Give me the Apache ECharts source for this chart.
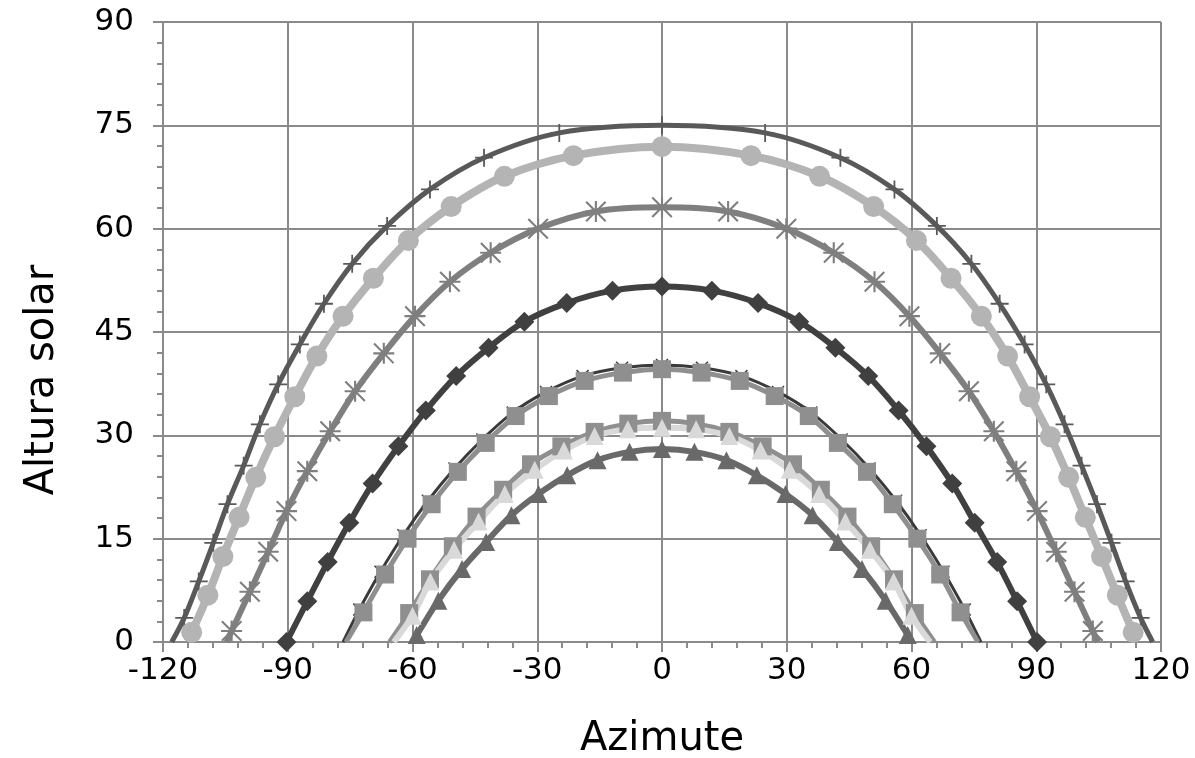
<!DOCTYPE html>
<html>
<head>
<meta charset="utf-8">
<title>Altura solar x Azimute</title>
<script src="https://cdn.jsdelivr.net/npm/echarts@6/dist/echarts.min.js"></script>
<style>
  html, body { margin: 0; padding: 0; background: #ffffff; }
  #chart { width: 1195px; height: 758px; }
</style>
</head>
<body>
<div id="chart"></div>
<script>
// Sun paths: azimuth (degrees) and solar altitude (degrees), one marker per half hour.
// Each "horizon" pair gives the sunrise / sunset azimuth where the curve meets altitude 0.

const xTicks = [-120, -90, -60, -30, 0, 30, 60, 90, 120];
const yTicks = [0, 15, 30, 45, 60, 75, 90];

const plusAz  = [-114.9, -111.4, -107.9, -104.5, -100.6, -96.7, -92.3, -87.1, -81.3, -74.5, -66.1, -55.8, -42.8, -24.7, 0, 24.8, 42.9, 55.9, 66.1, 74.4, 81.2, 87.2, 92.4, 96.8, 100.9, 104.6, 108.1, 111.5, 115.1];
const plusAlt = [3.5, 8.8, 14.4, 20.0, 25.6, 31.6, 37.4, 43.2, 49.1, 54.9, 60.4, 65.7, 70.3, 73.9, 75.0, 73.9, 70.3, 65.7, 60.4, 54.9, 49.1, 43.2, 37.4, 31.6, 25.6, 20.0, 14.4, 8.8, 3.5];
const plusHorizon = [-117.9, 118.0];

const circleAz  = [-113.1, -109.2, -105.6, -101.7, -97.7, -93.2, -88.3, -83.0, -76.7, -69.4, -61.0, -50.7, -37.9, -21.3, 0, 21.4, 37.9, 50.9, 61.2, 69.5, 76.8, 83.1, 88.4, 93.4, 97.8, 101.8, 105.7, 109.5, 113.3];
const circleAlt = [1.4, 6.8, 12.4, 18.1, 23.9, 29.8, 35.6, 41.5, 47.3, 52.8, 58.3, 63.2, 67.6, 70.6, 71.9, 70.6, 67.6, 63.2, 58.3, 52.8, 47.3, 41.5, 35.6, 29.8, 23.9, 18.1, 12.4, 6.8, 1.4];

const starAz  = [-103.5, -99.1, -94.7, -90.3, -85.3, -79.8, -73.8, -66.9, -59.4, -51.0, -41.2, -29.8, -15.9, 0, 15.9, 29.9, 41.3, 51.1, 59.5, 66.9, 73.8, 79.8, 85.2, 90.2, 94.8, 99.2, 103.6];
const starAlt = [1.6, 7.3, 13.1, 19.0, 24.8, 30.6, 36.4, 41.9, 47.3, 52.3, 56.5, 60.0, 62.5, 63.1, 62.5, 60.0, 56.5, 52.3, 47.3, 41.9, 36.4, 30.6, 24.8, 19.0, 13.1, 7.3, 1.6];
const starHorizon = [-104.7, 104.8];

const diamondAz  = [-90.3, -85.3, -80.4, -75.2, -69.6, -63.4, -56.8, -49.5, -41.7, -33.1, -22.9, -11.9, 0, 12.0, 23.1, 33.0, 41.7, 49.6, 56.9, 63.6, 69.8, 75.2, 80.6, 85.4, 90.2];
const diamondAlt = [0, 5.9, 11.6, 17.3, 23.0, 28.4, 33.6, 38.6, 42.7, 46.5, 49.2, 51.0, 51.6, 51.0, 49.2, 46.5, 42.7, 38.6, 33.6, 28.4, 23.0, 17.3, 11.6, 5.9, 0];

const crossAz  = [-72.8, -67.7, -62.2, -56.3, -49.9, -43.2, -35.9, -27.9, -19.1, -9.6, 0, 9.6, 19.1, 27.9, 35.9, 43.2, 49.9, 56.3, 62.2, 67.7, 72.8];
const crossAlt = [4.7, 10.2, 15.5, 20.5, 25.2, 29.4, 33.3, 36.3, 38.6, 39.8, 40.2, 39.8, 38.6, 36.3, 33.3, 29.4, 25.2, 20.5, 15.5, 10.2, 4.7];
const crossHorizon = [-76.7, 76.7];

const squareAz  = [-71.8, -66.6, -61.2, -55.4, -49.1, -42.4, -35.2, -27.2, -18.6, -9.4, 0, 9.5, 18.7, 27.1, 35.3, 42.3, 49.3, 55.5, 61.4, 66.9, 71.8];
const squareAlt = [4.3, 9.8, 15.0, 20.0, 24.7, 28.9, 32.8, 35.7, 37.9, 39.1, 39.6, 39.1, 37.9, 35.7, 32.8, 28.9, 24.7, 20.0, 15.0, 9.8, 4.3];
const squareHorizon = [-76.0, 76.0];

const square2Az  = [-60.8, -55.8, -50.3, -44.6, -38.2, -31.5, -24.2, -16.2, -8.1, 0, 8.1, 16.2, 24.2, 31.5, 38.2, 44.6, 50.3, 55.8, 60.8];
const square2Alt = [4.2, 9.1, 13.9, 18.2, 22.1, 25.8, 28.4, 30.5, 31.7, 32.1, 31.7, 30.5, 28.4, 25.8, 22.1, 18.2, 13.9, 9.1, 4.2];
const square2Horizon = [-65.5, 65.5];

const lightTriAz  = [-60.0, -55.7, -50.0, -44.1, -37.8, -30.6, -23.6, -16.2, -8.2, 0, 8.2, 16.2, 23.7, 30.7, 37.8, 44.1, 50.0, 55.7, 60.0];
const lightTriAlt = [3.8, 8.8, 13.4, 17.5, 21.5, 25.0, 27.8, 29.9, 30.9, 31.1, 30.9, 29.9, 27.8, 25.0, 21.5, 17.5, 13.4, 8.8, 3.8];
const lightTriHorizon = [-64.5, 64.5];

const darkTriAz  = [-59.0, -53.8, -48.1, -42.3, -36.2, -29.7, -22.8, -15.5, -7.8, 0, 7.8, 15.5, 22.8, 29.7, 36.2, 42.3, 48.1, 53.8, 59.1];
const darkTriAlt = [1.0, 6.0, 10.6, 14.5, 18.4, 21.5, 24.2, 26.4, 27.6, 28.0, 27.6, 26.4, 24.2, 21.5, 18.4, 14.5, 10.6, 6.0, 1.0];
const darkTriHorizon = [-60.1, 60.1];

// Marker shapes drawn as filled paths in a 20x20 box
const PLUS = 'path://M9,0H11V20H9Z M0,9H20V11H0Z';
const STAR = 'path://M9,0H11V20H9Z M0,9H20V11H0Z M1.4,0L20,18.6L18.6,20L0,1.4Z M18.6,0L20,1.4L1.4,20L0,18.6Z';
const CROSS = 'path://M1.6,0L20,18.4L18.4,20L0,1.6Z M18.4,0L20,1.6L1.6,20L0,18.4Z';

function track(az, alt, horizon) {
  const pts = az.map((a, i) => [a, alt[i]]);
  if (horizon) {
    pts.unshift({ value: [horizon[0], 0], symbol: 'none' });
    pts.push({ value: [horizon[1], 0], symbol: 'none' });
  }
  return pts;
}

function path(name, data, color, width, symbol, size, markerColor) {
  return {
    name: name,
    type: 'line',
    data: data,
    smooth: 0.35,
    symbol: symbol,
    symbolSize: size,
    showAllSymbol: true,
    clip: false,
    lineStyle: { color: color, width: width },
    itemStyle: { color: markerColor || color, borderWidth: 0 },
    emphasis: { disabled: true }
  };
}

const gridColor = '#8a8a8a';
const tickFont = { fontFamily: 'DejaVu Sans', fontSize: 31, color: '#000000' };

const chart = echarts.init(document.getElementById('chart'), null, { renderer: 'canvas' });
chart.setOption({
  animation: false,
  backgroundColor: '#ffffff',
  grid: { left: 163, right: 34, top: 22, bottom: 116, containLabel: false, outerBoundsMode: 'none' },
  xAxis: {
    type: 'value',
    min: xTicks[0],
    max: xTicks[xTicks.length - 1],
    interval: xTicks[1] - xTicks[0],
    name: 'Azimute',
    nameLocation: 'middle',
    nameGap: 78,
    nameTextStyle: { fontFamily: 'DejaVu Sans', fontSize: 40, color: '#000000' },
    axisLine: { show: true, onZero: false, lineStyle: { color: gridColor, width: 2 } },
    axisTick: { show: true, inside: false, length: 10, lineStyle: { color: gridColor, width: 2 } },
    minorTick: { show: true, splitNumber: 5, length: 6, lineStyle: { color: gridColor, width: 2 } },
    splitLine: { show: true, lineStyle: { color: gridColor, width: 2 } },
    axisLabel: Object.assign({ margin: 13 }, tickFont)
  },
  yAxis: {
    type: 'value',
    min: yTicks[0],
    max: yTicks[yTicks.length - 1],
    interval: yTicks[1] - yTicks[0],
    name: 'Altura solar',
    nameLocation: 'middle',
    nameGap: 100,
    nameTextStyle: { fontFamily: 'DejaVu Sans', fontSize: 40, color: '#000000', padding: [0, 96, 0, 0] },
    axisLine: { show: true, onZero: false, lineStyle: { color: gridColor, width: 2 } },
    axisTick: { show: true, inside: false, length: 10, lineStyle: { color: gridColor, width: 2 } },
    minorTick: { show: true, splitNumber: 5, length: 6, lineStyle: { color: gridColor, width: 2 } },
    splitLine: { show: true, lineStyle: { color: gridColor, width: 2 } },
    axisLabel: Object.assign({ margin: 29 }, tickFont)
  },
  series: [
    path('plus', track(plusAz, plusAlt, plusHorizon), '#595959', 5, PLUS, 18),
    path('circle', track(circleAz, circleAlt), '#b4b4b4', 8, 'circle', 21),
    path('star', track(starAz, starAlt, starHorizon), '#7f7f7f', 6, STAR, 21),
    path('diamond', track(diamondAz, diamondAlt), '#404040', 6, 'diamond', 20),
    path('cross', track(crossAz, crossAlt, crossHorizon), '#3a3a3a', 3, CROSS, 13),
    path('square', track(squareAz, squareAlt, squareHorizon), '#8f8f8f', 5, 'rect', 18),
    path('square2', track(square2Az, square2Alt, square2Horizon), '#8f8f8f', 5, 'rect', 18),
    path('darkTri', track(darkTriAz, darkTriAlt, darkTriHorizon), '#696969', 6, 'triangle', 18),
    path('lightTri', track(lightTriAz, lightTriAlt, lightTriHorizon), '#d9d9d9', 6, 'triangle', 18)
  ]
});
</script>
</body>
</html>
